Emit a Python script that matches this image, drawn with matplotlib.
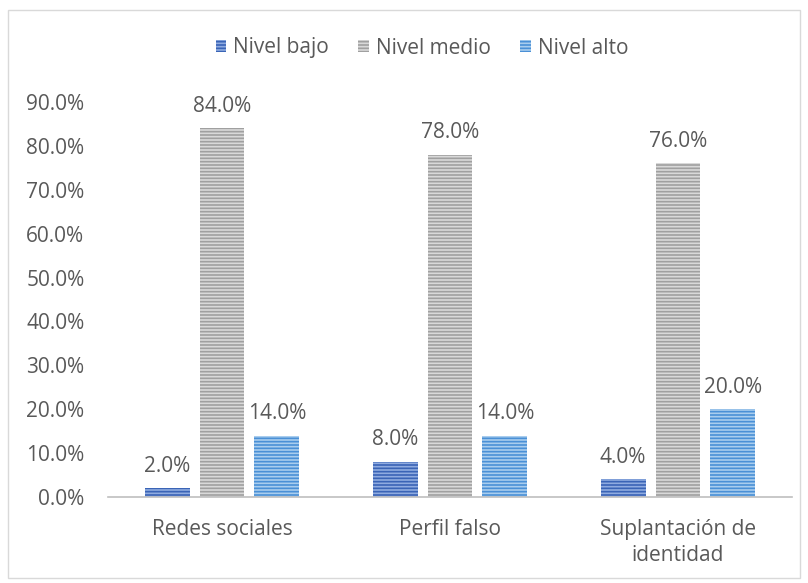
import matplotlib
matplotlib.use("Agg")
import matplotlib.pyplot as plt
import numpy as np
from matplotlib.patches import Rectangle

categories = ["Redes sociales", "Perfil falso", "Suplantación de\nidentidad"]
series_names = ["Nivel bajo", "Nivel medio", "Nivel alto"]
nivel_bajo = [2.0, 8.0, 4.0]
nivel_medio = [84.0, 78.0, 76.0]
nivel_alto = [14.0, 14.0, 20.0]
yticks = [0, 10, 20, 30, 40, 50, 60, 70, 80, 90]

plt.rcParams['font.family'] = ['Open Sans', 'DejaVu Sans']
plt.rcParams['hatch.linewidth'] = 1.2

fig = plt.figure(figsize=(8.08, 5.83), dpi=100)
ax = fig.add_axes([108/808, 1-497/583, (792-108)/808, (497-102)/583])

x = np.arange(len(categories))
width = 0.197
offset = 0.241
txt = '#595959'
fs = 15
faces = ['#8fabe0', '#d9d9d9', '#a9cdee']
hatchc = ['#3a64b6', '#a0a0a0', '#4a90d6']
data = [nivel_bajo, nivel_medio, nivel_alto]
for i, (vals, name) in enumerate(zip(data, series_names)):
    bars = ax.bar(x + (i-1)*offset, vals, width, facecolor=faces[i], edgecolor=hatchc[i],
                  hatch='-----', linewidth=0, label=name)
    for b, v in zip(bars, vals):
        ax.annotate(f"{v:.1f}%", (b.get_x()+b.get_width()/2, v), xytext=(0, 12),
                    textcoords='offset points', ha='center', va='baseline',
                    fontsize=fs, color=txt)

ax.set_xlim(-0.5, 2.5)
ax.set_ylim(0, 90)
ax.set_yticks(yticks)
ax.set_yticklabels([f"{t:.1f}%" for t in yticks], fontsize=fs, color=txt)
ax.set_xticks(x)
ax.set_xticklabels(categories, fontsize=fs, color=txt, linespacing=1.3)
ax.tick_params(axis='x', length=0, pad=16)
ax.tick_params(axis='y', length=0, pad=17)
for s in ['top', 'right', 'left']:
    ax.spines[s].set_visible(False)
ax.spines['bottom'].set_color('#bfbfbf')
ax.spines['bottom'].set_linewidth(1.2)

leg = ax.legend(loc='center', bbox_to_anchor=(422/808, 1-48/583), bbox_transform=fig.transFigure,
                ncol=3, frameon=False, fontsize=fs, handlelength=0.5, handleheight=0.5,
                columnspacing=1.4, handletextpad=0.35)
for t in leg.get_texts():
    t.set_color(txt)

fig.patches.append(Rectangle((8/808, 1-578/583), 792/808, 568/583, transform=fig.transFigure,
                             fill=False, edgecolor='#d9d9d9', linewidth=1))
fig.savefig('out.png', dpi=100)
